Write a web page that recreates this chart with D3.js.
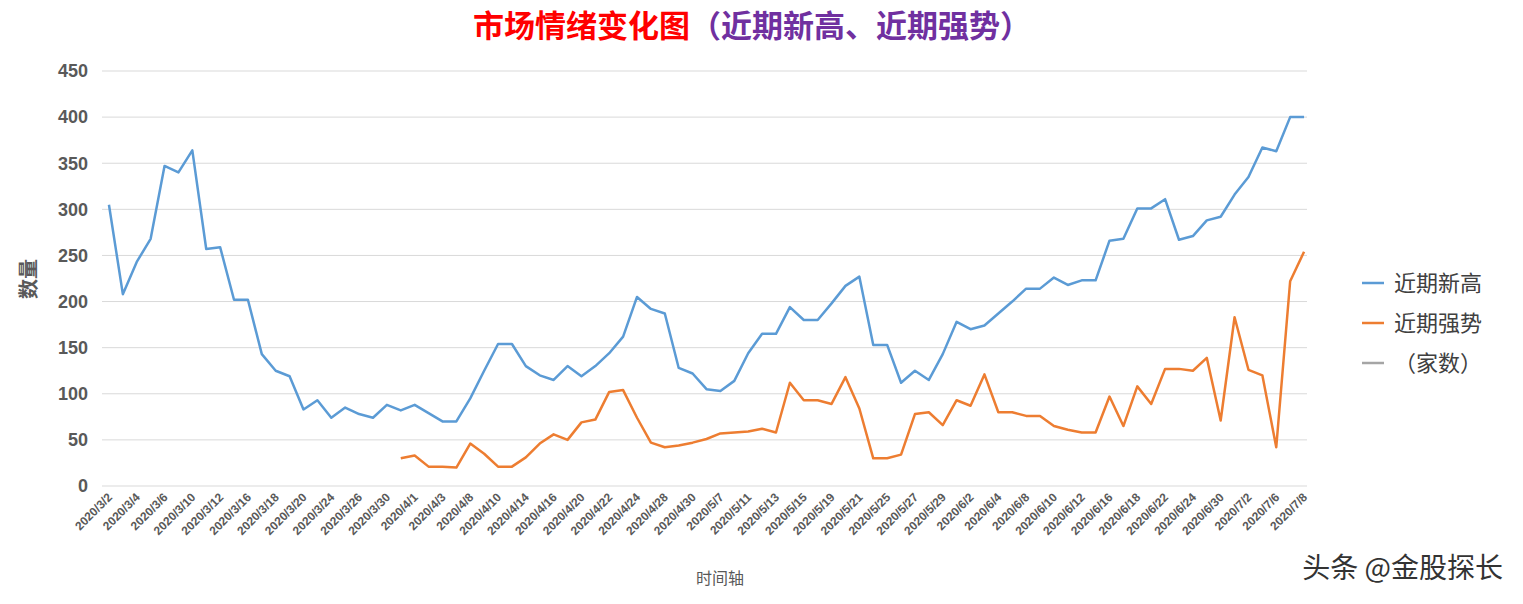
<!DOCTYPE html>
<html><head><meta charset="utf-8">
<script src="https://cdn.jsdelivr.net/npm/d3@7"></script>
<style>body{margin:0;background:#fff;font-family:"Noto Sans CJK SC","Noto Sans",sans-serif;}</style>
</head><body><div id="chart"></div>
<script>
var months = [[3,[2,3,4,5,6,9,10,11,12,13,16,17,18,19,20,23,24,25,26,27,30,31]],
  [4,[1,2,3,7,8,9,10,13,14,15,16,17,20,21,22,23,24,27,28,29,30]],
  [5,[6,7,8,11,12,13,14,15,18,19,20,21,22,25,26,27,28,29]],
  [6,[1,2,3,4,5,8,9,10,11,12,15,16,17,18,19,22,23,24,29,30]],
  [7,[1,2,3,6,7,8]]];
var dates = [];
months.forEach(function(m){ m[1].forEach(function(d){ dates.push("2020/"+m[0]+"/"+d); }); });

var newHigh = [305,208,243,268,347,340,364,257,259,202,202,143,125,119,83,93,74,85,78,74,
  88,82,88,79,70,70,95,125,154,154,130,120,115,130,119,130,144,162,205,192,
  187,128,122,105,103,114,144,165,165,194,180,180,198,217,227,153,153,112,125,115,
  143,178,170,174,187,200,214,214,226,218,223,223,266,268,301,301,311,267,271,288,
  292,316,335,367,363,400,400];
var strong = [null,null,null,null,null,null,null,null,null,null,null,null,null,null,null,null,null,null,null,null,
  null,30,33,21,21,20,46,35,21,21,31,46,56,50,69,72,102,104,74,47,
  42,44,47,51,57,58,59,62,58,112,93,93,89,118,84,30,30,34,78,80,
  66,93,87,121,80,80,76,76,65,61,58,58,97,65,108,89,127,127,125,139,
  71,183,126,120,42,222,254];
var yTicks = [0,50,100,150,200,250,300,350,400,450];

var W = 1523, H = 604;
var svg = d3.select("#chart").append("svg").attr("width",W).attr("height",H);

var x = d3.scaleBand().domain(dates).range([102,1311]);
var y = d3.scaleLinear().domain([0,450]).range([486,71]);
var cx = function(i){ return x(dates[i]) + x.bandwidth()/2; };

//gridlines
svg.append("g").selectAll("line").data(yTicks).enter().append("line")
  .attr("x1",102).attr("x2",1307).attr("y1",y).attr("y2",y)
  .attr("stroke","#d9d9d9").attr("stroke-width",1);

//y labels
svg.append("g").selectAll("text").data(yTicks).enter().append("text")
  .attr("x",88).attr("y",y).attr("dy","0.35em").attr("text-anchor","end")
  .attr("font-size",18).attr("font-weight","bold").attr("fill","#595959")
  .attr("font-family","Liberation Sans, Arial").text(function(d){return d;});

//x labels, every other day
svg.append("g").selectAll("text").data(dates.filter(function(d,i){return i%2==0;})).enter().append("text")
  .attr("transform",function(d){ return "translate("+(x(d)+x.bandwidth()/2+4)+",498) rotate(-45)"; })
  .attr("text-anchor","end").attr("font-size",12).attr("font-weight","bold").attr("fill","#595959")
  .attr("font-family","Liberation Sans, Arial").text(function(d){return d;});

var line = d3.line().defined(function(d){return d!=null;})
  .x(function(d,i){return cx(i);}).y(function(d){return y(d);});

svg.append("path").datum(newHigh).attr("d",line).attr("fill","none")
  .attr("stroke","#5b9bd5").attr("stroke-width",2.5).attr("stroke-linejoin","round");
svg.append("path").datum(strong).attr("d",line).attr("fill","none")
  .attr("stroke","#ed7d31").attr("stroke-width",2.5).attr("stroke-linejoin","round");

//title
var title = svg.append("text").attr("x",752).attr("y",37).attr("text-anchor","middle")
  .attr("font-size",31).attr("font-weight","bold");
title.append("tspan").attr("fill","#ff0000").text("市场情绪变化图");
title.append("tspan").attr("fill","#7030a0").text("（近期新高、近期强势）");

//axis titles
svg.append("text").attr("transform","translate(36,279) rotate(-90)").attr("text-anchor","middle")
  .attr("font-size",20).attr("font-weight","bold").attr("fill","#595959").text("数量");
svg.append("text").attr("x",720).attr("y",584).attr("text-anchor","middle")
  .attr("font-size",16).attr("fill","#595959").text("时间轴");

//legend
var legend = [["近期新高","#5b9bd5"],["近期强势","#ed7d31"],["（家数）","#a5a5a5"]];
var lg = svg.append("g").selectAll("g").data(legend).enter().append("g")
  .attr("transform",function(d,i){return "translate(1362,"+(283+i*40)+")";});
lg.append("line").attr("x1",0).attr("x2",22).attr("stroke",function(d){return d[1];}).attr("stroke-width",2.5);
lg.append("text").attr("x",32).attr("dy","0.35em").attr("font-size",22).attr("fill","#404040")
  .text(function(d){return d[0];});

//watermark
svg.append("text").attr("x",1503).attr("y",578).attr("text-anchor","end")
  .attr("font-size",28).attr("fill","#333").attr("stroke","#fff").attr("stroke-width",3)
  .attr("paint-order","stroke").text("头条 @金股探长");
</script></body></html>
